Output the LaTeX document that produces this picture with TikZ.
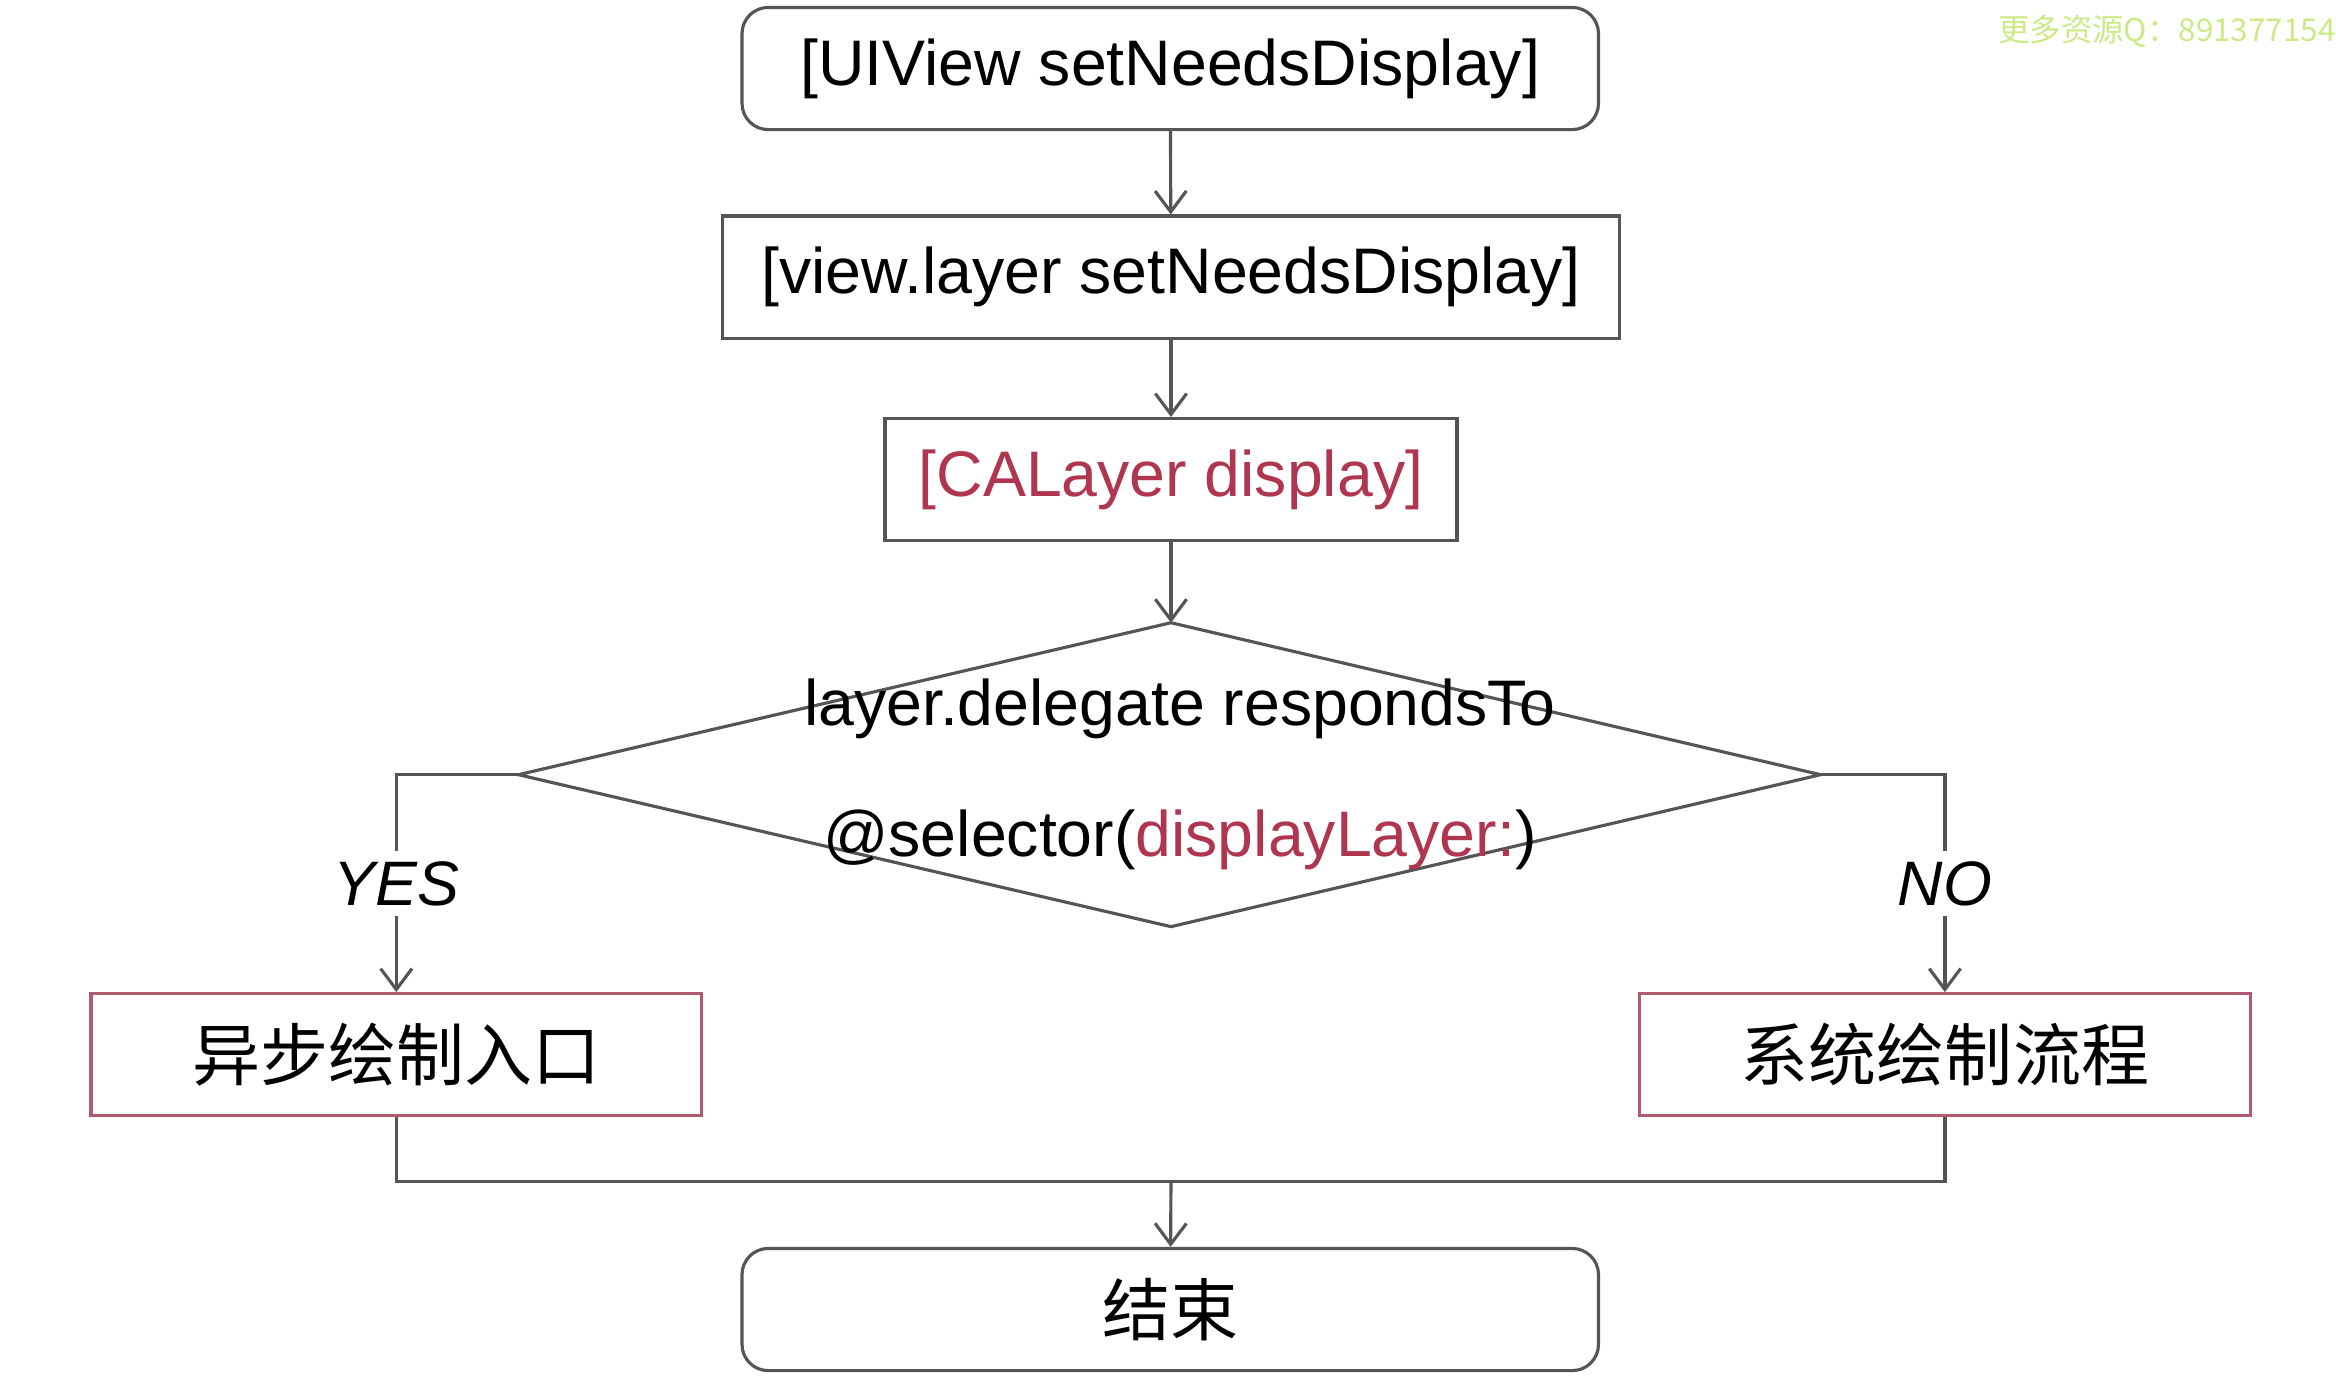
\documentclass[tikz,border=0pt]{standalone}
\usepackage{fontspec}
\setmainfont{Liberation Sans}
\newfontfamily\cjk{Noto Sans CJK SC}
\usetikzlibrary{arrows.meta}
\definecolor{ln}{HTML}{555555}
\definecolor{rd}{HTML}{B0354F}
\definecolor{rb}{HTML}{B05A70}
\begin{document}
\begin{tikzpicture}[x=0.02cm,y=-0.02cm,
  box/.style={draw=ln,line width=1.2pt,minimum height=1.64cm,inner sep=0pt,font=\fontsize{24.6}{28}\selectfont},
  rbox/.style={box,rounded corners=10pt},
  arr/.style={draw=ln,line width=1.2pt,-{Straight Barb[length=8pt,width=12pt,line width=1.2pt]}},
  ln/.style={draw=ln,line width=1.2pt},
  lbl/.style={fill=white,font=\fontsize{24}{28}\selectfont\itshape,inner sep=4pt}]
\useasboundingbox (0,0) rectangle (1568,928);
\node[rbox,minimum width=11.5cm] (A) at (785.5,46) {[UIView setNeedsDisplay]};
\node[box,minimum width=12.04cm] (B) at (786,186) {[view.layer setNeedsDisplay]};
\node[box,minimum width=7.68cm,text=rd] (C) at (786,322) {[CALayer display]};
\coordinate (DT) at (786,418);
\coordinate (DB) at (786,622);
\coordinate (DL) at (348,520);
\coordinate (DR) at (1222,520);
\draw[ln] (DT) -- (DR) -- (DB) -- (DL) -- cycle;
\node[align=center,font=\fontsize{24.6}{50}\selectfont] (D) at (792,520) {layer.delegate respondsTo\\@selector(\textcolor{rd}{displayLayer:})};
\node[box,draw=rb,minimum width=8.2cm,font=\cjk\fontsize{26}{30}\selectfont] (E) at (266,708) {异步绘制入口};
\node[box,draw=rb,minimum width=8.2cm,font=\cjk\fontsize{26}{30}\selectfont] (F) at (1305.5,708) {系统绘制流程};
\node[rbox,minimum width=11.5cm,font=\cjk\fontsize{26}{30}\selectfont] (G) at (785.5,879) {结束};
\draw[arr] (A) -- (B);
\draw[arr] (B) -- (C);
\draw[arr] (C) -- (DT);
\draw[arr] (DL) -| node[lbl,pos=0.75] {YES} (E);
\draw[arr] (DR) -| node[lbl,pos=0.75] {NO} (F);
\coordinate (J) at (786,793);
\draw[ln] (E.south) |- (J) -| (F.south);
\draw[arr] (J) -- (G);
\node[anchor=north east,text=yellow!60!green!50,font=\cjk\fontsize{12}{14}\selectfont,inner sep=0pt] (W) at (1568,10) {更多资源Q：891377154};
\end{tikzpicture}
\end{document}
